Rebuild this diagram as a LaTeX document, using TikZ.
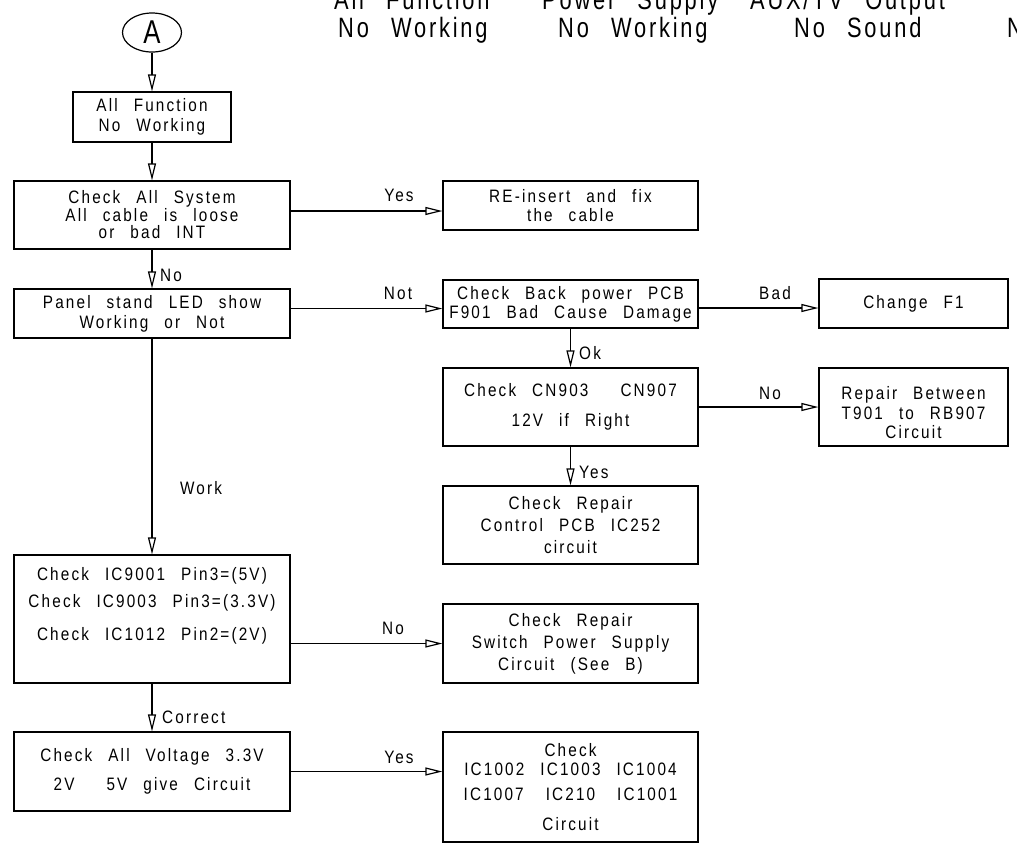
\documentclass[tikz,border=0pt]{standalone}
\usepackage{fontspec}
\usetikzlibrary{arrows.meta,shapes.geometric}
\newfontfamily\cadfont[FakeStretch=0.85,LetterSpace=12,WordSpace=2.5]{Liberation Sans}
\newfontfamily\cadtop[FakeStretch=0.78,LetterSpace=10,WordSpace=2.5]{Liberation Sans}
\begin{document}
\begin{tikzpicture}[x=1pt,y=-1pt,
  txt/.style={font=\cadfont\fontsize{18}{19}\selectfont},
  box/.style={draw, line width=1.2pt, rectangle, inner sep=0pt, align=center, txt},
  conn/.style={line width=1.2pt, -{Triangle[open,length=17pt,width=8pt]}},
  lbl/.style={inner sep=0pt, txt},
  toptxt/.style={inner sep=0pt, anchor=base west, font=\cadtop\fontsize{28}{30}\selectfont},
]
\clip (0,0) rectangle (1017,844);
% header (cut at the top and right)
\node[toptxt] (h1) at (334,9) {All Function};
\node[toptxt] (h2) at (542,9) {Power Supply};
\node[toptxt] (h3) at (750,9) {AUX/TV Output};
\node[toptxt] (h4) at (338,37) {No Working};
\node[toptxt] (h5) at (558,37) {No Working};
\node[toptxt] (h6) at (794,37) {No Sound};
\node[toptxt] (h7) at (1007,37) {N};
% start
\node[draw, ellipse, line width=1.2pt, minimum width=59pt, minimum height=39pt, inner sep=0pt,
      font=\cadtop\fontsize{33}{33}\selectfont] (A) at (152,32.5) {A};
% left column
\node[box, minimum width=158pt, minimum height=50pt] (b1) at (152,117) {All Function\\[1pt]No Working};
\node[box, minimum width=276pt, minimum height=68pt] (b2) at (152,215) {Check All System\\[-1.5pt]All cable is loose\\[-1.5pt]or bad INT};
\node[box, minimum width=276pt, minimum height=49pt] (b3) at (152,313.5) {Panel stand LED show\\[1pt]Working or Not};
\node[box, minimum width=276pt, minimum height=128pt] (b4) at (152,619) {Check IC9001 Pin3=(5V)\\[8pt]Check IC9003 Pin3=(3.3V)\\[14pt]Check IC1012 Pin2=(2V)\\[6pt]\strut};
\node[box, minimum width=276pt, minimum height=79pt] (b5) at (152,771.5) {Check All Voltage 3.3V\\[10pt]2V\ \ 5V give Circuit};
% middle column
\node[box, minimum width=255pt, minimum height=49pt] (m1) at (570.5,205.5) {RE-insert and fix\\the cable};
\node[box, minimum width=255pt, minimum height=48pt] (m2) at (570.5,304) {Check Back power PCB\\F901 Bad Cause Damage};
\node[box, minimum width=255pt, minimum height=78pt] (m3) at (570.5,407) {Check CN903\ \ CN907\\[11pt]12V if Right};
\node[box, minimum width=255pt, minimum height=78pt] (m4) at (570.5,525) {Check Repair\\[3pt]Control PCB IC252\\[3pt]circuit};
\node[box, minimum width=255pt, minimum height=79pt] (m5) at (570.5,643.5) {Check Repair\\[3pt]Switch Power Supply\\[3pt]Circuit (See B)};
\node[box, minimum width=255pt, minimum height=110pt] (m6) at (570.5,787) {Check\\IC1002 IC1003 IC1004\\[6pt]IC1007\hspace{22pt}IC210\hspace{22pt}IC1001\\[11pt]Circuit};
% right column
\node[box, minimum width=189pt, minimum height=49pt] (r1) at (913.5,303.5) {Change F1};
\node[box, minimum width=189pt, minimum height=78pt] (r2) at (913.5,407) {\strut\\[-8pt]Repair Between\\[0.5pt]T901 to RB907\\[0.5pt]Circuit};
% connectors
\draw[conn] (A) -- (b1);
\draw[conn] (b1) -- (b2);
\draw[conn] (b2) -- (b3);
\draw[conn] (b3) -- (b4);
\draw[conn] (b4) -- (b5);
\draw[conn] ([yshift=4pt]b2.east) -- ([yshift=4pt]b2.east -| m1.west);
\draw[conn] ([yshift=5pt]b3.east) -- ([yshift=5pt]b3.east -| m2.west);
\draw[conn] (m5.west -| b4.east) -- (m5.west);
\draw[conn] (b5.east) -- (b5.east -| m6.west);
\draw[conn] (m2) -- (m3);
\draw[conn] (m3) -- (m4);
\draw[conn] ([yshift=-4pt]m2.east) -- ([yshift=-4pt]m2.east -| r1.west);
\draw[conn] (m3.east) -- (r2.west);
% connector labels
\node[lbl, anchor=west] (lNo1) at (160,275) {No};
\node[lbl] (lYes1) at (399,195) {Yes};
\node[lbl] (lNot) at (398,293) {Not};
\node[lbl] (lBad) at (775,293) {Bad};
\node[lbl, anchor=west] (lOk) at (579,353) {Ok};
\node[lbl] (lNo2) at (770,393) {No};
\node[lbl, anchor=west] (lYes2) at (579,472) {Yes};
\node[lbl] (lWork) at (201,488) {Work};
\node[lbl] (lNo3) at (393,628) {No};
\node[lbl, anchor=west] (lCorrect) at (162,717) {Correct};
\node[lbl] (lYes3) at (399,757) {Yes};
\end{tikzpicture}
\end{document}
